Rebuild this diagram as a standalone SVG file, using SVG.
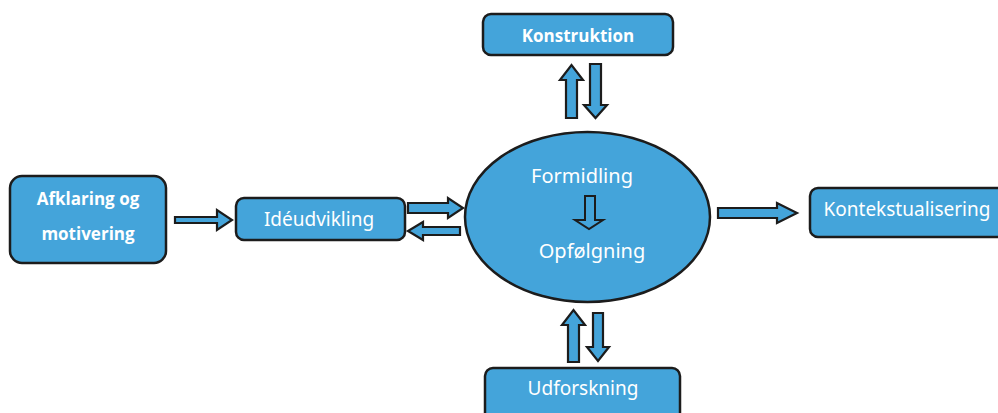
<svg xmlns="http://www.w3.org/2000/svg" width="998" height="413" viewBox="0 0 998 413">
<style>
.box{fill:#44a4da;stroke:#1c1c1c;stroke-width:2.5}
.arr{fill:#44a4da;stroke:#1c1c1c;stroke-width:2.2;stroke-linejoin:miter}
.hollow{fill:none;stroke:#1c1c1c;stroke-width:2}
.tb{font-family:"Open Sans","Noto Sans",sans-serif;font-weight:bold;fill:#fff;text-anchor:middle}
.tr{font-family:"Noto Sans","Open Sans",sans-serif;fill:#fff;text-anchor:middle}
</style>
<rect width="998" height="413" fill="#fff"/>
<g id="afklaring">
<rect class="box" x="10" y="176" width="156" height="87" rx="12"/>
<text class="tb" x="88" y="205" font-size="17">Afklaring og</text>
<text class="tb" x="88" y="240" font-size="17">motivering</text>
</g>
<g id="ideudvikling">
<rect class="box" x="236" y="198" width="169" height="42" rx="8"/>
<text class="tr" x="319" y="226" font-size="19">Idéudvikling</text>
</g>
<g id="konstruktion">
<rect class="box" x="483" y="14" width="190" height="41" rx="8"/>
<text class="tb" x="578" y="42" font-size="17">Konstruktion</text>
</g>
<g id="formidling">
<ellipse class="box" cx="587.5" cy="217" rx="122.5" ry="85"/>
<text class="tr" x="582" y="183" font-size="20">Formidling</text>
<path class="hollow" d="M585,196 H595 V220 H603 L589,229 L575,220 H585 Z"/>
<text class="tr" x="592" y="258" font-size="20">Opfølgning</text>
</g>
<g id="kontekstualisering">
<rect class="box" x="810" y="188" width="200" height="49" rx="8"/>
<text class="tr" x="907" y="216" font-size="19">Kontekstualisering</text>
</g>
<g id="udforskning">
<rect class="box" x="485" y="368" width="195" height="60" rx="8"/>
<text class="tr" x="583" y="395" font-size="19">Udforskning</text>
</g>
<g id="connectors">
<path class="arr" d="M175,217 H217 V210 L232,220 L217,230 V223 H175 Z"/>
<path class="arr" d="M408,203 H448 V198 L463,208 L448,218 V213 H408 Z"/>
<path class="arr" d="M460,227 H423 V222 L408,231 L423,240 V235 H460 Z"/>
<path class="arr" d="M566,118 V80 H560 L571.5,65 L583,80 H577 V118 Z"/>
<path class="arr" d="M590,64 H601 V105 H607 L595.5,118 L584,105 H590 Z"/>
<path class="arr" d="M718,208 H777 V203 L797,213 L777,223 V218 H718 Z"/>
<path class="arr" d="M568,362 V325 H562 L573.5,310 L585,325 H579 V362 Z"/>
<path class="arr" d="M593,313 H603 V347 H609 L598,361 L587,347 H593 Z"/>
</g>
</svg>
